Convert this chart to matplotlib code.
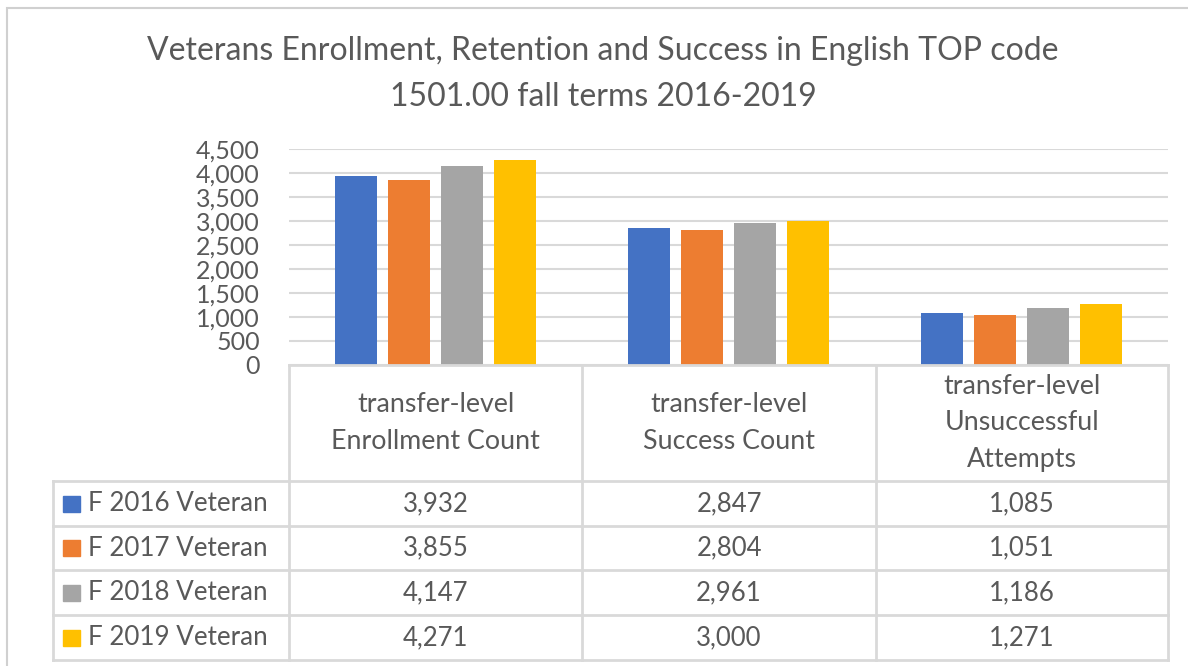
import matplotlib
matplotlib.use("Agg")
import matplotlib.pyplot as plt
from matplotlib.patches import Rectangle
from matplotlib.lines import Line2D

# ---- data ----
title = "Veterans Enrollment, Retention and Success in English TOP code\n1501.00 fall terms 2016-2019"
categories = ["transfer-level\nEnrollment Count",
              "transfer-level\nSuccess Count",
              "transfer-level\nUnsuccessful\nAttempts"]
series_names = ["F 2016 Veteran", "F 2017 Veteran", "F 2018 Veteran", "F 2019 Veteran"]
values_2016 = [3932, 2847, 1085]
values_2017 = [3855, 2804, 1051]
values_2018 = [4147, 2961, 1186]
values_2019 = [4271, 3000, 1271]
series_values = [values_2016, values_2017, values_2018, values_2019]
colors = ["#4472C4", "#ED7D31", "#A5A5A5", "#FFC000"]
yticks = list(range(0, 4501, 500))

W, H = 1188, 666
TXT = "#595959"
GRID = "#D9D9D9"
FONT = "Lato"
plt.rcParams["font.family"] = [FONT, "DejaVu Sans"]

fig = plt.figure(figsize=(W / 100, H / 100), dpi=100)
fig.patch.set_facecolor("white")

def fx(x):
    return x / W

def fy(y):
    return 1 - y / H

# chart frame
fig.add_artist(Rectangle((fx(7), fy(672)), fx(1200) - fx(7), fy(8) - fy(672),
                         transform=fig.transFigure, fill=False, edgecolor="#D0D0D0", lw=1.5))

# plot area
L, R, T, B = 289, 1168, 149, 365
ax = fig.add_axes([fx(L), fy(B), fx(R) - fx(L), fy(T) - fy(B)])
ax.set_xlim(-0.5, len(categories) - 0.5)
ax.set_ylim(0, 4500)
bw = 0.143
step = 0.181
n = len(series_values)
for i, (vals, c) in enumerate(zip(series_values, colors)):
    xs = [k + (i - (n - 1) / 2) * step for k in range(len(categories))]
    ax.bar(xs, vals, width=bw, color=c, zorder=3)
ax.set_yticks(yticks)
ax.set_yticklabels([f"{v:,}" for v in yticks])
ax.tick_params(axis="y", length=0, pad=21, labelsize=18, labelcolor=TXT)
ax.set_xticks([])
ax.yaxis.grid(True, color=GRID, lw=1.5, zorder=0)
for s in ax.spines.values():
    s.set_visible(False)
ax.set_facecolor("none")

# title
fig.text(fx(603), fy(74), title, ha="center", va="center", fontsize=23,
         color=TXT, linespacing=1.66)

# data table
col_x = [289, 582, 876, 1168]
row_y = [481, 526, 570, 615, 660]
leg_left = 53

def hline(x0, x1, y):
    fig.add_artist(Line2D([fx(x0), fx(x1)], [fy(y), fy(y)], transform=fig.transFigure,
                          color=GRID, lw=2))

def vline(x, y0, y1):
    fig.add_artist(Line2D([fx(x), fx(x)], [fy(y0), fy(y1)], transform=fig.transFigure,
                          color=GRID, lw=2))

hline(col_x[0], col_x[-1], 365)
for y in row_y:
    hline(leg_left, col_x[-1], y)
for x in col_x:
    vline(x, 365, row_y[-1])
vline(leg_left, row_y[0], row_y[-1])

# header
for k, cat in enumerate(categories):
    cx = (col_x[k] + col_x[k + 1]) / 2
    fig.text(fx(cx), fy(423), cat, ha="center", va="center", fontsize=19.3,
             color=TXT, linespacing=1.58)

# rows
for i, (name, vals, c) in enumerate(zip(series_names, series_values, colors)):
    cy = (row_y[i] + row_y[i + 1]) / 2
    fig.add_artist(Rectangle((fx(63), fy(cy + 8)), fx(17), fy(cy - 8) - fy(cy + 8),
                             transform=fig.transFigure, color=c))
    fig.text(fx(88), fy(cy), name, ha="left", va="center", fontsize=18.7, color=TXT)
    for k, v in enumerate(vals):
        cx = (col_x[k] + col_x[k + 1]) / 2
        fig.text(fx(cx), fy(cy), f"{v:,}", ha="center", va="center", fontsize=18.5, color=TXT)

fig.savefig("out.png", dpi=100)
